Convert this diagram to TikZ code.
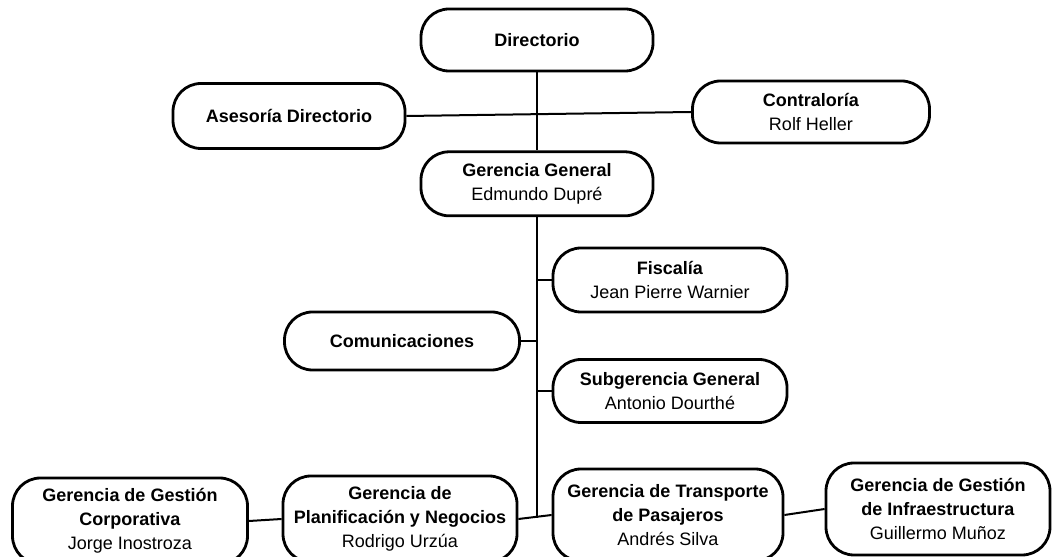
\documentclass[tikz,border=0pt]{standalone}
\usepackage{fontspec}
\setmainfont{Liberation Sans}
\usetikzlibrary{positioning}

\begin{document}
\begin{tikzpicture}[
        x=1pt, y=1pt,
        every node/.style={draw, align=center, rounded corners=28pt, line width=2.8pt, font=\fontsize{18}{24}\selectfont, minimum width=232pt, minimum height=62pt, inner sep=2pt},
        lowrow/.style={minimum height=86pt},
        link/.style={line width=2pt}
      ]
    \useasboundingbox (0,0) rectangle (1058,557);

    \node (directorio) at (537,517) {\textbf{Directorio}};
    \node (gerencia) [below=78pt of directorio, minimum height=64pt] {\textbf{Gerencia General}\\Edmundo Dupré};
    \node (asesoria) at (289,441) [minimum height=65pt] {\textbf{Asesoría Directorio}};
    \node (contraloria) at (811,445) [minimum width=237pt] {\textbf{Contraloría}\\Rolf Heller};
    \node (fiscalia) at (670,277) [minimum width=234pt, minimum height=64pt] {\textbf{Fiscalía}\\Jean Pierre Warnier};
    \node (comunicaciones) at (402,216) [minimum width=235pt, minimum height=58pt] {\textbf{Comunicaciones}};
    \node (subgerencia) at (670,166) [minimum width=234pt, minimum height=63pt] {\textbf{Subgerencia General}\\Antonio Dourthé};
    \node (corporativa) at (130,36) [lowrow, minimum width=235pt] {\textbf{Gerencia de Gestión}\\\textbf{Corporativa}\\Jorge Inostroza};
    \node (planificacion) at (400,38) [lowrow, minimum width=234pt] {\textbf{Gerencia de}\\\textbf{Planificación y Negocios}\\Rodrigo Urzúa};
    \node (transporte) at (668,42) [lowrow, minimum width=230pt, minimum height=92pt] {\textbf{Gerencia de Transporte}\\\textbf{de Pasajeros}\\Andrés Silva};
    \node (infraestructura) at (938,48) [lowrow, minimum width=224pt, minimum height=92pt] {\textbf{Gerencia de Gestión}\\\textbf{de Infraestructura}\\Guillermo Muñoz};
    \coordinate (pie) at (537,39);

    \draw[link] (directorio) -- (gerencia);
    \draw[link] (asesoria.east) -- (contraloria.west);
    \draw[link] (gerencia.south) -- (pie);
    \draw[link] (fiscalia.west) -- (fiscalia.west -| pie);
    \draw[link] (comunicaciones.east) -- (comunicaciones.east -| pie);
    \draw[link] (subgerencia.west) -- (subgerencia.west -| pie);
    \draw[link] (planificacion.east) -- (transporte.west);
    \draw[link] (corporativa.east) -- (planificacion.west);
    \draw[link] (transporte.east) -- (infraestructura.west);

\end{tikzpicture}
\end{document}
